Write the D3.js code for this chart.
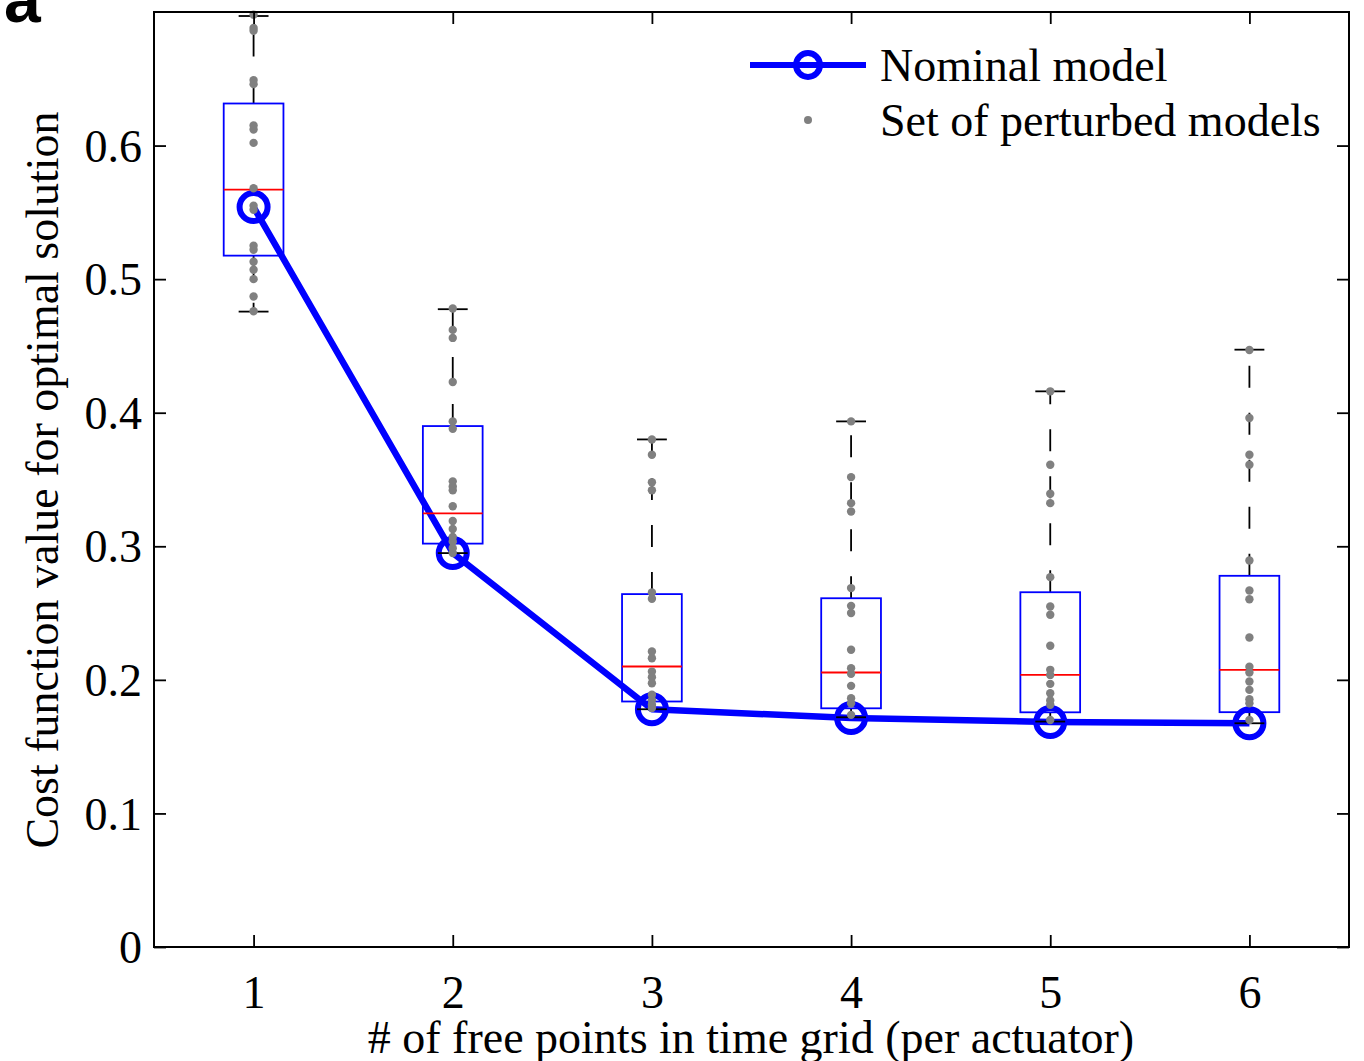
<!DOCTYPE html>
<html>
<head>
<meta charset="utf-8">
<script src="https://cdn.jsdelivr.net/npm/d3@7"></script>
<style>
  html, body { margin: 0; padding: 0; background: #fff; }
  svg { display: block; }
  text { font-family: "Liberation Serif", "Times New Roman", serif; fill: #000; }
</style>
</head>
<body>
<svg id="chart" width="1364" height="1061"></svg>
<script>
// ---- data ----
const categories = [1, 2, 3, 4, 5, 6];
const nominal    = [0.554, 0.295, 0.178, 0.1715, 0.1685, 0.1675];
const boxQ1      = [0.5176, 0.302, 0.1838, 0.1787, 0.1757, 0.1758];
const boxMedian  = [0.567, 0.3246, 0.210, 0.2055, 0.2037, 0.2075];
const boxQ3      = [0.6315, 0.390, 0.2642, 0.2611, 0.2656, 0.2779];
const whiskerLow = [0.4757, 0.2949, 0.178, 0.172, 0.1688, 0.1675];
const whiskerHigh= [0.697, 0.4775, 0.380, 0.3935, 0.416, 0.4472];
const perturbed1 = [0.698, 0.688, 0.686, 0.649, 0.646, 0.615, 0.612, 0.602, 0.568, 0.555, 0.552, 0.525, 0.522, 0.513, 0.507, 0.500, 0.487, 0.476];
const perturbed2 = [0.478, 0.462, 0.456, 0.423, 0.3935, 0.388, 0.3486, 0.3448, 0.342, 0.330, 0.319, 0.313, 0.307, 0.3036, 0.2986, 0.295];
const perturbed3 = [0.380, 0.3685, 0.348, 0.342, 0.2654, 0.2607, 0.2212, 0.2162, 0.2062, 0.202, 0.1975, 0.1888, 0.185, 0.1813, 0.179];
const perturbed4 = [0.3935, 0.3518, 0.3323, 0.326, 0.2687, 0.2554, 0.250, 0.2225, 0.2087, 0.2045, 0.1955, 0.1863, 0.1825, 0.1738];
const perturbed5 = [0.416, 0.361, 0.3393, 0.3323, 0.2769, 0.2549, 0.2487, 0.2255, 0.2075, 0.2037, 0.197, 0.19, 0.1845, 0.1813, 0.170];
const perturbed6 = [0.447, 0.396, 0.3685, 0.361, 0.2894, 0.2669, 0.2604, 0.2317, 0.2099, 0.2055, 0.1988, 0.1925, 0.1855, 0.1825, 0.170];
const perturbed = [perturbed1, perturbed2, perturbed3, perturbed4, perturbed5, perturbed6];
const yTicks = [0, 0.1, 0.2, 0.3, 0.4, 0.5, 0.6];
const yTickLabels = ["0", "0.1", "0.2", "0.3", "0.4", "0.5", "0.6"];
const xTickLabels = ["1", "2", "3", "4", "5", "6"];
const legendLabels = ["Nominal model", "Set of perturbed models"];
const xTitle = "# of free points in time grid (per actuator)";
const yTitle = "Cost function value for optimal solution";

// ---- layout ----
const L = 154, R = 1349, T = 12, B = 947;
const svg = d3.select("#chart");
const x = d3.scaleLinear().domain([0.5, 6.5]).range([L, R]);
const y = d3.scaleLinear().domain([0, 0.7]).range([B, T]);
const boxHalf = 0.15, capHalf = 0.075;
const FS = 46;

// panel letter (clipped at top, as in the reference)
svg.append("text").attr("x", 4).attr("y", 22)
  .style("font-family", "'Liberation Sans', Arial, sans-serif")
  .style("font-weight", "bold").style("font-size", "66px").text("a");

// nominal line (drawn under boxplots)
const line = d3.line().x((d, i) => x(categories[i])).y(d => y(d));
svg.append("path").datum(nominal).attr("d", line)
  .attr("fill", "none").attr("stroke", "#0000ff").attr("stroke-width", 6.5)
  .attr("stroke-linejoin", "round");
svg.selectAll("circle.nom").data(nominal).enter().append("circle")
  .attr("class", "nom")
  .attr("cx", (d, i) => x(categories[i])).attr("cy", d => y(d)).attr("r", 14)
  .attr("fill", "none").attr("stroke", "#0000ff").attr("stroke-width", 6);

// boxplots
const g = svg.append("g");
categories.forEach((c, i) => {
  g.append("line").attr("x1", x(c)).attr("x2", x(c))
    .attr("y1", y(boxQ3[i])).attr("y2", y(whiskerHigh[i]))
    .attr("stroke", "#000").attr("stroke-width", 1.8).attr("stroke-dasharray", "22,25");
  g.append("line").attr("x1", x(c)).attr("x2", x(c))
    .attr("y1", y(boxQ1[i])).attr("y2", y(whiskerLow[i]))
    .attr("stroke", "#000").attr("stroke-width", 1.8).attr("stroke-dasharray", "22,25");
  [whiskerHigh[i], whiskerLow[i]].forEach(v => {
    g.append("line").attr("x1", x(c - capHalf)).attr("x2", x(c + capHalf))
      .attr("y1", y(v)).attr("y2", y(v)).attr("stroke", "#000").attr("stroke-width", 1.8);
  });
  g.append("rect").attr("x", x(c - boxHalf)).attr("width", x(c + boxHalf) - x(c - boxHalf))
    .attr("y", y(boxQ3[i])).attr("height", y(boxQ1[i]) - y(boxQ3[i]))
    .attr("fill", "none").attr("stroke", "#0000ff").attr("stroke-width", 1.8);
  g.append("line").attr("x1", x(c - boxHalf)).attr("x2", x(c + boxHalf))
    .attr("y1", y(boxMedian[i])).attr("y2", y(boxMedian[i]))
    .attr("stroke", "#ff0000").attr("stroke-width", 1.8);
  g.selectAll(null).data(perturbed[i]).enter().append("circle")
    .attr("cx", x(c)).attr("cy", d => y(d)).attr("r", 4.2).attr("fill", "#808080");
});

// frame
svg.append("rect").attr("x", L).attr("y", T).attr("width", R - L).attr("height", B - T)
  .attr("fill", "none").attr("stroke", "#000").attr("stroke-width", 2);

// axes with inward ticks
const TL = 12;
svg.append("g").attr("transform", `translate(0,${B})`)
  .call(d3.axisBottom(x).tickValues(categories).tickSize(-TL).tickPadding(61)
    .tickFormat((d, i) => xTickLabels[i]))
  .call(a => a.select(".domain").remove())
  .call(a => a.selectAll("line").attr("stroke-width", 1.8))
  .call(a => a.selectAll("text").style("font-family", "'Liberation Serif', serif").style("font-size", FS + "px").attr("dy", "0"));
svg.append("g").attr("transform", `translate(0,${T})`)
  .call(d3.axisTop(x).tickValues(categories).tickSize(-TL).tickFormat(""))
  .call(a => a.select(".domain").remove())
  .call(a => a.selectAll("line").attr("stroke-width", 1.8));
svg.append("g").attr("transform", `translate(${L},0)`)
  .call(d3.axisLeft(y).tickValues(yTicks).tickSize(-TL).tickPadding(12)
    .tickFormat((d, i) => yTickLabels[i]))
  .call(a => a.select(".domain").remove())
  .call(a => a.selectAll("line").attr("stroke-width", 1.8))
  .call(a => a.selectAll("text").style("font-family", "'Liberation Serif', serif").style("font-size", FS + "px").attr("dy", "0.34em"));
svg.append("g").attr("transform", `translate(${R},0)`)
  .call(d3.axisRight(y).tickValues(yTicks).tickSize(-TL).tickFormat(""))
  .call(a => a.select(".domain").remove())
  .call(a => a.selectAll("line").attr("stroke-width", 1.8));

// axis titles
svg.append("text").attr("x", (365 + 1137) / 2).attr("y", 1053).attr("text-anchor", "middle")
  .style("font-size", FS + "px").text(xTitle);
svg.append("text").attr("transform", `translate(58,480) rotate(-90)`).attr("text-anchor", "middle")
  .style("font-size", FS + "px").text(yTitle);

// legend
svg.append("line").attr("x1", 750).attr("x2", 866).attr("y1", 65).attr("y2", 65)
  .attr("stroke", "#0000ff").attr("stroke-width", 6);
svg.append("circle").attr("cx", 808).attr("cy", 65).attr("r", 12)
  .attr("fill", "none").attr("stroke", "#0000ff").attr("stroke-width", 6);
svg.append("circle").attr("cx", 808).attr("cy", 120).attr("r", 4).attr("fill", "#808080");
svg.append("text").attr("x", 880).attr("y", 81).style("font-size", FS + "px").text(legendLabels[0]);
svg.append("text").attr("x", 880).attr("y", 136).style("font-size", FS + "px").text(legendLabels[1]);
</script>
</body>
</html>
